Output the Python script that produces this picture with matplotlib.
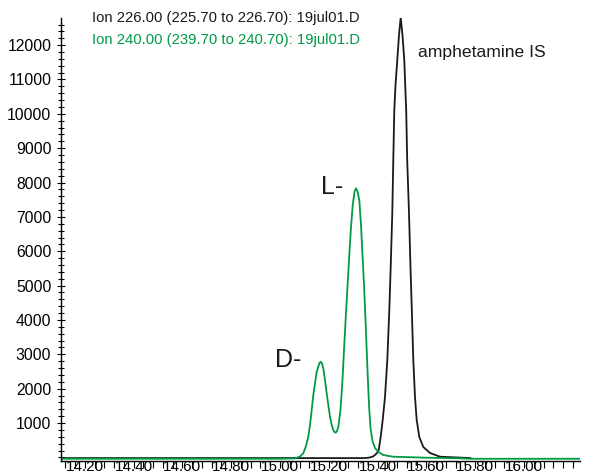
import matplotlib
matplotlib.use("Agg")
import matplotlib.pyplot as plt
from matplotlib.ticker import MultipleLocator

plt.rcParams['font.family'] = ['Liberation Sans', 'DejaVu Sans']

# Ion 226 (amphetamine IS) trace
black_t = [14.102, 15.000, 15.340, 15.3553, 15.369, 15.3811, 15.3893, 15.3975, 15.4045,
           15.4127, 15.4209, 15.4303, 15.4398, 15.4480, 15.4537, 15.4602, 15.4639,
           15.4684, 15.4734, 15.4807, 15.4877, 15.4947, 15.5020, 15.5094, 15.5131,
           15.5172, 15.5213, 15.5287, 15.5348, 15.5402, 15.5463, 15.5533, 15.5602,
           15.5709, 15.5873, 15.6148, 15.6557, 15.7172, 15.780]
black_i = [-20, -20, -20, -17, 0, 26, 70, 128, 215,
           594, 1088, 1758, 2834, 4289, 5541, 7112, 8500,
           10109, 10837, 11564, 12292, 12807, 12292, 11564, 10837,
           10109, 8654, 7112, 5541, 4289, 2834, 1758, 1088,
           594, 303, 128, 20, 0, -20]

# Ion 240 (D-/L- enantiomers) trace
green_t = [14.102, 15.000, 15.0615, 15.082, 15.0955, 15.1066, 15.116, 15.1230, 15.1299,
           15.1365, 15.1434, 15.1504, 15.157, 15.1619, 15.1668, 15.1721, 15.1775,
           15.1844, 15.1914, 15.1980, 15.2049, 15.2119, 15.2184, 15.2234, 15.2283,
           15.2336, 15.2389, 15.2480, 15.2561, 15.2623, 15.2689, 15.2758, 15.2828,
           15.2902, 15.2980, 15.3053, 15.3115, 15.3176, 15.3250, 15.3320, 15.3381,
           15.3443, 15.3496, 15.3545, 15.3594, 15.3648, 15.3709, 15.3791, 15.3893,
           15.4029, 15.4234, 15.4631, 15.5990, 15.7377, 15.7787, 16.2295]
green_i = [-40, -40, -30, 26, 119, 332, 602, 943, 1379,
           1816, 2156, 2485, 2639, 2747, 2785, 2732, 2593,
           2252, 1865, 1525, 1184, 943, 797, 739, 719,
           768, 885, 1379, 2252, 3125, 3998, 4871, 5744,
           6617, 7345, 7723, 7831, 7752, 7490, 6763, 5890,
           5017, 4144, 3271, 2398, 1525, 855, 477, 274,
           157, 70, 20, -9, -26, -40, -40]

x_ticks = [14.2, 14.4, 14.6, 14.8, 15.0, 15.2, 15.4, 15.6, 15.8, 16.0]
x_labels = ["14.20", "14.40", "14.60", "14.80", "15.00", "15.20", "15.40", "15.60", "15.80", "16.00"]
y_ticks = [1000, 2000, 3000, 4000, 5000, 6000, 7000, 8000, 9000, 10000, 11000, 12000]

black_label = "Ion 226.00 (225.70 to 226.70): 19jul01.D"
green_label = "Ion 240.00 (239.70 to 240.70): 19jul01.D"

GREEN = '#009a45'
BLACK = '#1a1a1a'

W, H = 590, 475
fig = plt.figure(figsize=(W / 100, H / 100), dpi=100)
ax = fig.add_axes([61 / W, (H - 461) / H, (580 - 61) / W, (461 - 18) / H])

ax.plot(black_t, black_i, color=BLACK, lw=1.3, solid_joinstyle='round')
ax.plot(green_t, green_i, color=GREEN, lw=1.3, solid_joinstyle='round')

ax.set_xlim(14.1025, 16.2295)
ax.set_ylim(-105, 12790)

for s in ['top', 'right']:
    ax.spines[s].set_visible(False)
ax.spines['left'].set_linewidth(1.0)
ax.spines['bottom'].set_linewidth(1.0)

ax.set_xticks(x_ticks)
ax.set_xticklabels(x_labels)
ax.xaxis.set_minor_locator(MultipleLocator(0.04))
ax.tick_params(axis='x', which='major', direction='out', length=5, width=0.8,
               pad=-6, labelsize=11)
ax.tick_params(axis='x', which='minor', direction='out', length=5, width=0.8)

ax.set_yticks(y_ticks)
ax.set_yticklabels([str(v) for v in y_ticks])
ax.yaxis.set_minor_locator(MultipleLocator(200))
ax.tick_params(axis='y', which='major', direction='inout', length=6, width=0.8,
               pad=4, labelsize=11.3)
ax.tick_params(axis='y', which='minor', direction='inout', length=4, width=0.8)

def fx(px):
    return px / W

def fy(py):
    return 1 - py / H

fig.text(fx(92), fy(18), black_label, color=BLACK, fontsize=10.7, va='center', ha='left')
fig.text(fx(92), fy(40), green_label, color=GREEN, fontsize=10.7, va='center', ha='left')
fig.text(fx(418), fy(52), "amphetamine IS", color=BLACK, fontsize=12.6, va='center', ha='left')
fig.text(fx(321), fy(187), "L-", color=BLACK, fontsize=18, va='center', ha='left')
fig.text(fx(275), fy(360), "D-", color=BLACK, fontsize=18, va='center', ha='left')

fig.savefig("out.png", dpi=100)
